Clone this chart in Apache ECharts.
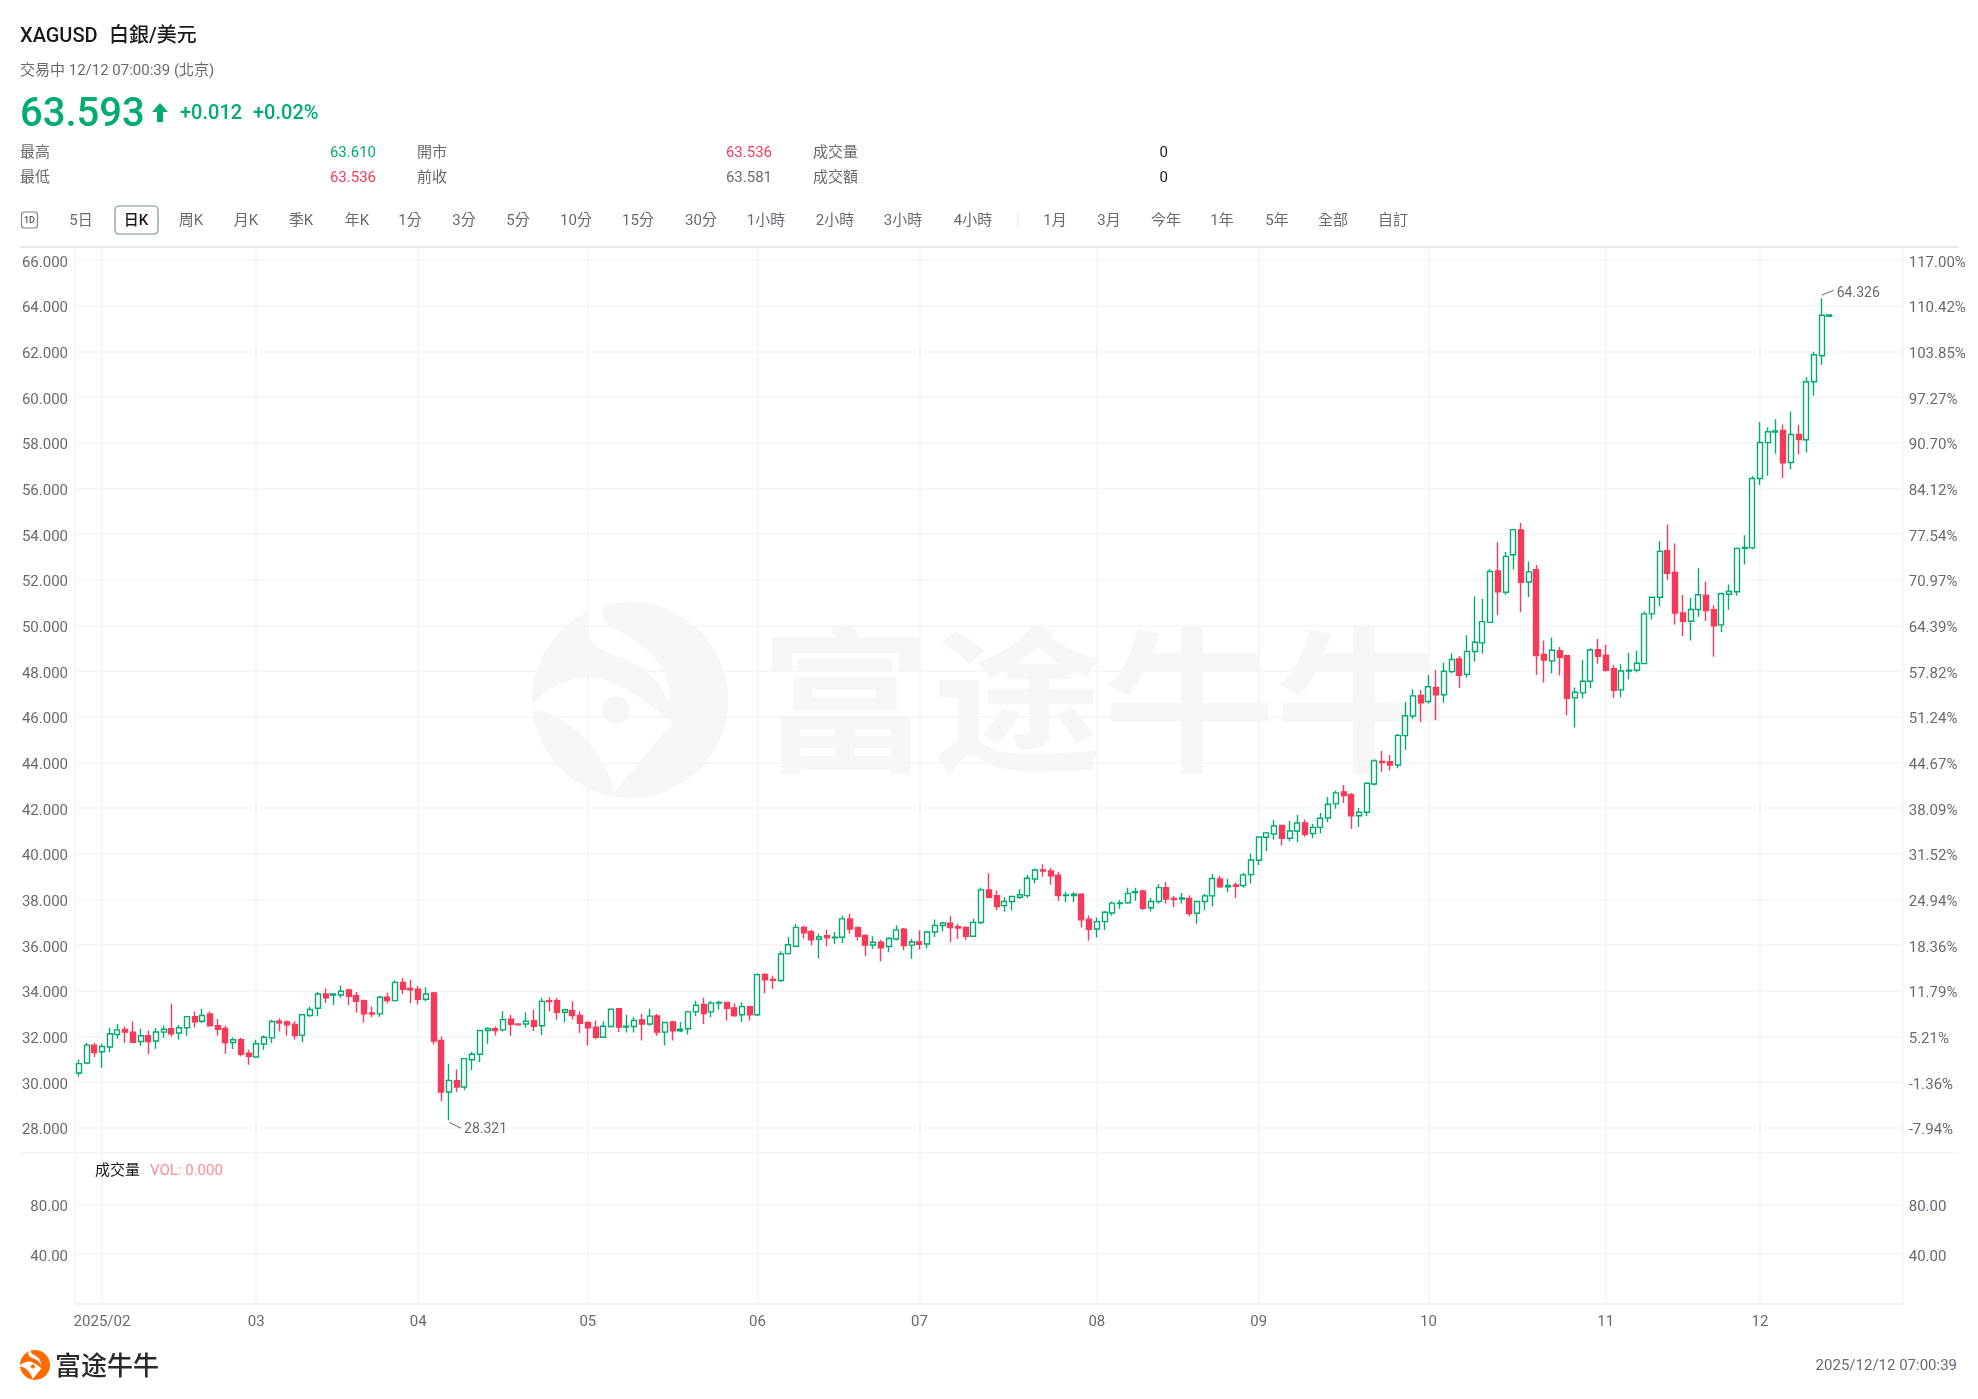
<!DOCTYPE html>
<html><head><meta charset="utf-8">
<style>html,body{margin:0;padding:0;background:#fff}#c{width:1978px;height:1399px}</style>
<script src="https://cdn.jsdelivr.net/npm/echarts@6/dist/echarts.min.js"></script>
</head><body><div id="c"></div>
<script>
const opens=[30.39,30.83,31.61,31.32,31.53,32.08,32.30,32.18,31.77,32.03,
31.79,32.18,32.33,32.14,32.37,32.86,32.66,32.98,32.46,32.34,
31.73,31.85,31.26,31.09,31.66,31.93,32.66,32.63,32.52,32.05,
32.91,33.23,33.85,33.81,33.81,34.03,33.78,33.56,33.02,32.98,
33.71,33.56,34.36,34.09,34.06,33.62,33.90,31.82,29.56,30.05,
29.78,30.97,31.21,32.25,32.33,32.28,32.75,32.54,32.54,32.68,
32.46,33.56,33.56,33.05,33.13,32.91,32.60,32.40,31.96,32.43,
33.21,32.40,32.43,32.72,32.54,32.89,32.18,32.63,32.24,32.33,
33.07,33.39,33.07,33.45,33.48,33.24,32.94,33.30,32.94,34.71,
34.49,34.44,35.62,35.94,36.77,36.58,36.25,36.41,36.31,36.34,
37.14,36.76,36.42,36.00,36.12,35.93,36.26,36.69,35.99,36.13,
36.04,36.57,36.85,36.95,36.80,36.77,36.38,36.98,38.41,38.16,
37.72,37.90,38.09,38.16,38.89,39.28,39.24,39.05,38.16,38.16,
38.22,37.13,36.70,37.02,37.40,37.81,37.85,38.29,38.36,37.63,
37.90,38.51,38.04,38.01,38.04,37.39,37.90,38.15,38.89,38.55,
38.63,38.60,39.08,39.71,40.72,40.86,41.23,40.67,40.99,41.34,
40.88,41.15,41.56,42.18,42.70,42.58,41.66,41.81,43.05,44.04,
44.03,43.88,45.17,46.03,46.93,46.66,47.28,46.96,47.97,48.53,
47.85,48.85,49.23,50.13,52.38,51.45,53.09,54.18,51.90,52.44,
48.72,48.44,48.89,48.67,46.82,47.04,47.55,48.93,48.69,48.10,
47.17,48.00,48.03,48.32,50.50,51.23,53.27,52.32,50.54,50.18,
50.69,51.32,50.68,50.02,51.36,51.47,53.37,53.39,56.43,58.00,
58.46,58.54,57.13,58.36,58.13,60.67,61.81,63.536];
const closes=[30.80,31.61,31.29,31.55,32.11,32.28,32.18,31.74,32.02,31.77,
32.19,32.31,32.11,32.37,32.86,32.63,32.91,32.46,32.31,31.73,
31.85,31.21,31.12,31.67,31.96,32.65,32.59,32.50,32.03,32.94,
33.17,33.85,33.68,33.85,33.97,33.75,33.53,32.98,32.97,33.71,
33.56,34.36,34.06,34.03,33.62,33.85,31.79,29.56,30.07,29.78,
31.02,31.21,32.25,32.34,32.25,32.73,32.52,32.50,32.66,32.44,
33.53,33.52,33.05,33.16,32.91,32.57,32.37,31.96,32.44,33.18,
32.40,32.44,32.69,32.54,32.88,32.18,32.60,32.24,32.31,33.07,
33.36,33.00,33.45,33.48,33.23,32.91,33.30,32.94,34.70,34.47,
34.45,35.60,36.01,36.77,36.53,36.23,36.35,36.31,36.34,37.14,
36.70,36.38,35.99,36.12,35.88,36.28,36.66,35.97,36.13,36.03,
36.57,36.85,36.96,36.76,36.74,36.38,36.99,38.41,38.09,37.68,
37.90,38.12,38.20,38.92,39.28,39.24,39.03,38.16,38.19,38.22,
37.10,36.69,37.02,37.43,37.83,37.84,38.26,38.33,37.61,37.90,
38.51,38.01,37.99,38.06,37.37,37.90,38.15,38.91,38.55,38.61,
38.57,39.07,39.72,40.73,40.91,41.21,40.67,40.99,41.34,40.85,
41.15,41.55,42.16,42.66,42.54,41.66,41.81,43.08,44.06,43.99,
43.88,45.18,46.04,46.91,46.61,47.31,46.96,47.99,48.50,47.81,
48.86,49.26,50.16,52.36,51.47,53.02,54.19,51.88,52.34,48.67,
48.48,48.91,48.60,46.80,47.07,47.55,48.92,48.64,48.03,47.15,
48.00,48.03,48.34,50.50,51.23,53.24,52.28,50.54,50.18,50.69,
51.34,50.65,49.98,51.38,51.48,53.37,53.41,56.43,58.01,58.48,
58.51,57.12,58.36,58.14,60.67,61.85,63.58,63.593];
const highs=[30.97,31.71,31.71,31.67,32.37,32.54,32.43,32.65,32.33,32.25,
32.36,32.47,33.42,32.49,32.89,33.08,33.20,33.08,32.76,32.46,
31.95,31.93,31.41,31.85,32.03,32.72,32.78,32.70,32.66,32.98,
33.30,33.94,34.09,33.88,34.23,34.09,33.94,33.61,33.30,33.78,
33.91,34.44,34.55,34.47,34.20,34.15,33.94,31.99,30.80,30.54,
31.02,31.31,32.28,32.40,32.43,33.10,32.94,32.55,33.04,33.16,
33.68,33.71,33.68,33.20,33.53,33.10,32.66,32.69,32.66,33.21,
33.24,32.94,32.86,32.98,33.21,32.98,32.63,32.68,32.62,33.11,
33.56,33.69,33.55,33.56,33.51,33.45,33.49,33.34,34.76,34.76,
34.66,35.72,36.35,36.92,36.85,36.67,36.50,36.67,36.57,37.28,
37.36,36.82,36.47,36.38,36.23,36.35,36.86,36.74,36.26,36.64,
36.61,37.11,37.01,37.26,36.92,36.82,37.14,38.52,39.14,38.38,
38.09,38.16,38.44,39.06,39.35,39.53,39.37,39.21,38.33,38.31,
38.26,37.29,37.20,37.49,37.90,37.97,38.51,38.51,38.42,38.06,
38.67,38.76,38.16,38.28,38.18,37.94,38.23,39.11,39.02,38.89,
38.73,39.15,39.99,40.76,40.95,41.47,41.26,41.43,41.69,41.49,
41.30,41.78,42.48,42.76,43.01,42.66,42.00,43.12,44.13,44.50,
44.32,45.24,46.64,47.20,47.17,47.82,48.04,48.36,48.77,48.66,
49.56,51.26,51.15,52.47,53.64,53.21,54.22,54.48,52.79,52.64,
49.33,49.47,49.05,48.70,47.28,48.48,48.99,49.40,49.15,48.25,
48.29,48.80,48.89,50.61,51.26,53.69,54.41,53.58,51.33,51.20,
52.50,51.92,50.88,51.44,51.79,53.41,53.95,56.55,58.89,58.67,
59.02,58.80,59.37,58.77,60.86,61.98,64.326,63.61];
const lows=[30.24,30.77,31.09,30.62,31.31,31.89,31.70,31.73,31.57,31.21,
31.45,31.93,31.99,31.86,32.02,32.38,32.57,32.44,32.03,31.23,
31.44,31.12,30.75,31.06,31.41,31.70,32.21,32.03,31.86,31.74,
32.86,32.88,33.46,33.37,33.68,33.37,33.04,32.60,32.84,32.86,
33.45,33.53,33.85,33.45,33.39,33.53,31.64,29.14,28.321,29.56,
29.63,30.51,30.87,31.67,32.03,32.21,32.02,32.49,32.37,32.22,
32.05,33.10,32.72,32.60,32.73,32.14,31.60,31.87,31.92,32.38,
32.19,32.17,32.17,31.82,32.46,32.02,31.60,31.82,32.18,32.08,
32.88,32.54,32.84,33.17,32.69,32.84,32.63,32.69,32.89,33.88,
34.07,34.38,35.58,35.90,36.28,35.99,35.42,35.94,36.04,36.09,
36.50,36.19,35.50,35.82,35.27,35.68,36.20,35.77,35.39,35.80,
35.85,36.35,36.60,36.12,36.26,36.23,36.35,36.91,38.03,37.53,
37.46,37.51,38.01,38.07,38.70,38.99,38.64,37.93,37.87,37.88,
36.76,36.20,36.33,36.65,37.29,37.58,37.80,37.94,37.52,37.46,
37.81,37.81,37.65,37.80,37.26,36.93,37.52,37.69,38.51,38.31,
38.06,38.50,38.69,39.50,40.12,40.61,40.36,40.54,40.50,40.74,
40.67,40.88,41.37,41.97,42.22,41.09,41.17,41.64,42.98,43.59,
43.64,43.74,44.54,45.91,45.77,46.57,45.85,46.61,47.90,47.27,
47.71,48.42,48.76,50.10,50.44,51.34,52.44,50.57,51.24,47.82,
47.50,47.90,47.80,46.06,45.52,46.79,47.24,48.32,47.97,46.83,
46.85,47.64,47.93,48.29,50.25,50.83,52.00,50.03,49.53,49.33,
50.37,50.19,48.62,49.71,50.68,51.29,52.66,53.32,56.15,56.55,
57.51,56.45,56.84,57.48,57.57,60.06,61.41,63.536];
const volumes=[0];
const monthIndex=[3,23,44,66,88,109,132,153,175,198,218];
const monthLabels=['2025/02','03','04','05','06','07','08','09','10','11','12'];
const priceTicks=[28,30,32,34,36,38,40,42,44,46,48,50,52,54,56,58,60,62,64,66];
const pctLabels=['-7.94%','-1.36%','5.21%','11.79%','18.36%','24.94%','31.52%','38.09%','44.67%','51.24%','57.82%','64.39%','70.97%','77.54%','84.12%','90.70%','97.27%','103.85%','110.42%','117.00%'];
const volTicks=[40,80];
const extremeIndex=[226,48];
const extremeValue=[64.326,28.321];
const extremeDir=[1,-1];
const tabLabels=['5日','日K','周K','月K','季K','年K','1分','3分','5分','10分','15分','30分','1小時','2小時','3小時','4小時','1月','3月','今年','1年','5年','全部','自訂'];
const tabCenters=[81,136,191,246,301,357,410,464,518,576,638,701,766,835,903,973,1055,1109,1166,1222,1277,1333,1393];

const GREEN='#00ab74',RED='#f53a5a',GREY='#666b73',GRID='#f4f4f5';
const FF='Roboto,"Noto Sans CJK TC",sans-serif';
const TOTAL=237;
const categories=[];
for(let d=new Date(Date.UTC(2025,0,29));categories.length<TOTAL;d=new Date(d.getTime()+864e5)){
  if(d.getUTCDay()%6!==0)categories.push(d.toISOString().slice(0,10));
}
const candle=opens.map((o,i)=>[o,closes[i],lows[i],highs[i]]);
const extremes=extremeIndex.map((x,i)=>[x,extremeValue[i],extremeDir[i]]);
const isMonth=i=>monthIndex.indexOf(i)>=0;

function t(x,y,text,fill,size,opt){
  opt=opt||{};
  return {type:'text',z:5,silent:true,style:{x:x,y:y+1.5,text:text,fill:fill,
    font:(opt.weight||'400')+' '+size+'px '+(opt.family||FF),align:opt.align||'left',verticalAlign:'middle'}};
}
function line(x1,y1,x2,y2,c,w){return {type:'line',silent:true,z:1,shape:{x1,y1,x2,y2},style:{stroke:c,lineWidth:w}};}
function curve(start,segs){
  const pts=[start];let p=start;
  segs.forEach(s=>{
    for(let k=1;k<=10;k++){
      const u=k/10,v=1-u;
      pts.push([0,1].map(j=>v*v*v*p[j]+3*v*v*u*s[0][j]+3*v*u*u*s[1][j]+u*u*u*s[2][j]));
    }
    p=s[2];
  });
  return pts;
}
const logoBand=curve([0,52],[[[12,40],[26,36],[38,40]],[[50,44],[62,54],[72,62]],[[64,70],[56,80],[42,97]],[[38,82],[30,70],[18,62]],[[12,58],[6,55],[0,55]]]);
const logoSwoosh=curve([30,2],[[[24,14],[30,24],[44,28]],[[56,32],[66,40],[70,52]],[[72,34],[58,22],[46,16]],[[38,12],[34,8],[36,0]]]);
function logo(x,y,size,color,z){
  const s=size/100;
  return {type:'group',x:x,y:y,scaleX:s,scaleY:s,silent:true,children:[
    {type:'circle',z:z,shape:{cx:50,cy:50,r:50},style:{fill:color}},
    {type:'polygon',z:z,shape:{points:logoBand},style:{fill:'#fff'}},
    {type:'polygon',z:z,shape:{points:logoSwoosh},style:{fill:'#fff'}},
    {type:'circle',z:z,shape:{cx:43,cy:55,r:7},style:{fill:color}}
  ]};
}
const graphics=[
  logo(532,602,196,'#f6f6f6',-10),
  {type:'text',z:-10,silent:true,x:759.6,y:700,scaleX:1.036,scaleY:0.94,style:{x:0,y:0,text:'富途牛牛',fill:'#f6f6f6',font:'700 166px "Noto Sans CJK SC"',verticalAlign:'middle'}},
  t(20,35,'XAGUSD','#1a1a1a',20,{weight:'500'}),
  t(109,35,'白銀/美元','#1a1a1a',20,{weight:'500'}),
  t(20,70,'交易中 12/12 07:00:39 (北京)',GREY,15),
  t(20,114,'63.593',GREEN,40,{weight:'500'}),
  {type:'polygon',silent:true,shape:{points:[[160,103],[168,112],[163,112],[163,122],[157,122],[157,112],[152,112]]},style:{fill:GREEN}},
  t(180,112,'+0.012',GREEN,20,{weight:'500'}),
  t(253,112,'+0.02%',GREEN,20,{weight:'500'}),
  t(20,152,'最高',GREY,15), t(376,152,'63.610',GREEN,15,{align:'right'}),
  t(417,152,'開市',GREY,15), t(772,152,'63.536',RED,15,{align:'right'}),
  t(813,152,'成交量',GREY,15), t(1168,152,'0','#1a1a1a',15,{align:'right'}),
  t(20,177,'最低',GREY,15), t(376,177,'63.536',RED,15,{align:'right'}),
  t(417,177,'前收',GREY,15), t(772,177,'63.581',GREY,15,{align:'right'}),
  t(813,177,'成交額',GREY,15), t(1168,177,'0','#1a1a1a',15,{align:'right'}),
  {type:'rect',silent:true,shape:{x:21.5,y:212,width:16,height:16,r:3},style:{fill:'#fff',stroke:'#7d8590',lineWidth:1.2}},
  t(29.5,219,'1D','#555',9,{align:'center',weight:'500'}),
  {type:'rect',silent:true,shape:{x:115,y:206,width:43,height:28,r:4},style:{fill:'#fff',stroke:'#7f8b9a',lineWidth:1.2}},
  line(1018,211,1018,227,'#e6e6e6',1),
  line(20,247,1958,247,'#e9e9ea',2),
  line(20,1153,1958,1153,'#f3f3f4',1.5),
  t(95,1170,'成交量','#1a1a1a',15),
  t(150,1170,'VOL: 0.000','#ff8a98',15),
  logo(20,1350,30,'#ff6a00',5),
  t(55,1364,'富途牛牛','#2a2a2a',26,{weight:'500',family:'"Noto Sans CJK SC"'}),
  t(1957,1365,'2025/12/12 07:00:39',GREY,15,{align:'right'})
];
tabLabels.forEach((s,i)=>graphics.push(t(tabCenters[i],219.5,s,s==='日K'?'#1a1a1a':GREY,15,{align:'center',weight:s==='日K'?'500':'400'})));

const xBase={type:'category',data:categories,boundaryGap:true,
  axisTick:{show:false},axisPointer:{show:false},
  splitLine:{show:true,alignWithLabel:true,interval:(i)=>isMonth(i),lineStyle:{color:GRID,width:1.6}}};
const yBase={scale:true,type:'value',axisTick:{show:false},
  axisLine:{show:true,lineStyle:{color:GRID,width:1.5}}};
const yLabel={margin:7,verticalAlign:'top',lineHeight:6,color:GREY,fontSize:15,fontFamily:FF};

const chart=echarts.init(document.getElementById('c'));
chart.setOption({
  animation:false,backgroundColor:'#fff',
  textStyle:{fontFamily:FF},
  grid:[{left:75,right:75.3,top:247,height:906},{left:75,right:75.3,top:1153,height:152}],
  xAxis:[
    Object.assign({},xBase,{gridIndex:0,axisLine:{show:false},axisLabel:{show:false}}),
    Object.assign({},xBase,{gridIndex:1,axisLine:{show:true,lineStyle:{color:'#f1f1f2',width:2}},
      axisLabel:{show:true,interval:(i)=>isMonth(i),margin:10,color:GREY,fontSize:15,fontFamily:FF,hideOverlap:false,
        alignWithLabel:true,formatter:(v,i)=>monthLabels[monthIndex.indexOf(i)]||''}})
  ],
  yAxis:[
    Object.assign({},yBase,{gridIndex:0,position:'left',min:26.887,max:66.57,
      axisTick:{show:false,customValues:priceTicks},
      splitLine:{show:true,lineStyle:{color:GRID,width:1.5}},
      axisLabel:Object.assign({},yLabel,{customValues:priceTicks,formatter:v=>Number(v).toFixed(3)})}),
    Object.assign({},yBase,{gridIndex:0,position:'right',min:26.887,max:66.57,
      axisTick:{show:false,customValues:priceTicks},
      splitLine:{show:false},
      axisLabel:Object.assign({},yLabel,{margin:6,customValues:priceTicks,
        formatter:v=>pctLabels[priceTicks.indexOf(Number(v))]||''})}),
    Object.assign({},yBase,{gridIndex:1,position:'left',min:-1,max:121.3,
      axisTick:{show:false,customValues:volTicks},
      splitLine:{show:true,lineStyle:{color:GRID,width:1.5}},
      axisLabel:Object.assign({},yLabel,{customValues:volTicks,formatter:v=>Number(v).toFixed(2)})}),
    Object.assign({},yBase,{gridIndex:1,position:'right',min:-1,max:121.3,
      axisTick:{show:false,customValues:volTicks},
      splitLine:{show:false},
      axisLabel:Object.assign({},yLabel,{margin:6,customValues:volTicks,formatter:v=>Number(v).toFixed(2)})})
  ],
  graphic:{elements:graphics},
  series:[
    {type:'candlestick',name:'XAGUSD',xAxisIndex:0,yAxisIndex:0,data:candle,barWidth:5.5,clip:false,
      itemStyle:{color:'#ffffff',color0:RED,borderColor:GREEN,borderColor0:RED,borderWidth:1.4}},
    {type:'bar',name:'成交量',xAxisIndex:1,yAxisIndex:2,data:volumes,barWidth:5,itemStyle:{color:RED}},
    {type:'custom',name:'extremes',xAxisIndex:0,yAxisIndex:0,data:extremes,clip:false,silent:true,z:6,
      encode:{x:0,y:1},
      renderItem:(p,api)=>{
        const c=api.coord([api.value(0),api.value(1)]);
        const up=api.value(2)>0;
        const y1=c[1]+(up?-3:2),y2=c[1]+(up?-8:8),x2=c[0]+(up?12:12);
        return {type:'group',children:[
          {type:'line',shape:{x1:c[0],y1:y1,x2:x2,y2:y2},style:{stroke:'#666b73',lineWidth:1}},
          {type:'text',style:{x:x2+3,y:y2+(up?3:1.5),text:api.value(1).toFixed(3),fill:GREY,font:'14px '+FF,verticalAlign:'middle'}}
        ]};
      }}
  ]
});
</script></body></html>
